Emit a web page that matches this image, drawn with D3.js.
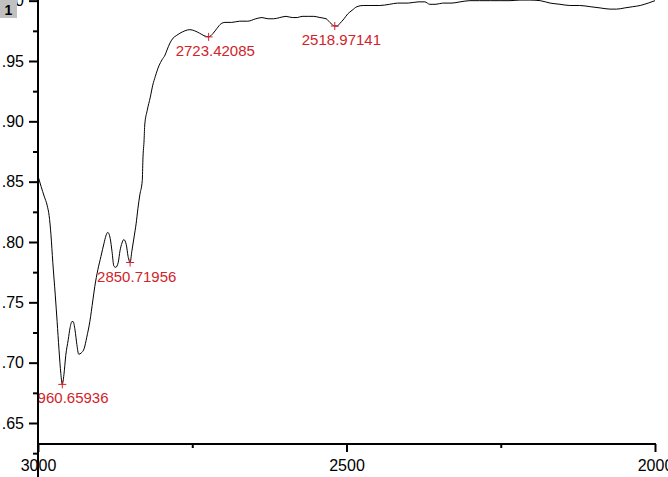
<!DOCTYPE html>
<html><head><meta charset="utf-8">
<script src="https://cdn.jsdelivr.net/npm/d3@7"></script>
<style>html,body{margin:0;padding:0;background:#fff;overflow:hidden}</style>
</head><body>
<script>
// Spectrum trace (wavenumber, value)
const wavenumbers = [2999,2995,2990,2985,2982,2979,2976,2972,2969,2966,2963,2960.66,2958,2955,2951,2948,2945,2943,2940,2937,2934,2930,2925,2921,2916,2911,2908,2903,2898,2893,2890,2887,2883,2880,2877,2874,2870,2867,2864,2861,2857,2854,2850.72,2848,2844,2841,2838,2835,2831,2830,2828,2827,2823,2818,2814,2810,2804,2799,2794,2791,2786,2781,2776,2770,2762,2754,2746,2738,2731,2723.42,2716,2710,2703,2697,2686,2673,2660,2647,2637,2627,2618,2608,2598,2588,2580,2572,2562,2553,2543,2533,2527,2518.97,2515,2511,2504,2498,2491,2483,2473,2462,2446,2430,2417,2400,2384,2373,2365,2355,2344,2329,2316,2300,2284,2267,2251,2235,2219,2203,2186,2170,2154,2138,2122,2105,2089,2073,2062,2049,2036,2024,2011,2000];
const values = [0.853,0.846,0.838,0.830,0.822,0.806,0.783,0.756,0.734,0.711,0.691,0.682,0.690,0.706,0.719,0.729,0.734,0.734,0.727,0.715,0.707,0.708,0.712,0.721,0.734,0.752,0.763,0.777,0.788,0.799,0.805,0.808,0.803,0.792,0.780,0.779,0.783,0.793,0.799,0.802,0.798,0.788,0.783,0.792,0.805,0.815,0.828,0.839,0.851,0.868,0.885,0.897,0.909,0.920,0.930,0.937,0.946,0.951,0.955,0.959,0.965,0.969,0.971,0.973,0.975,0.976,0.975,0.973,0.971,0.970,0.973,0.977,0.981,0.982,0.982,0.983,0.983,0.985,0.986,0.985,0.985,0.986,0.987,0.986,0.986,0.987,0.987,0.987,0.986,0.985,0.982,0.979,0.979,0.981,0.985,0.989,0.992,0.995,0.996,0.996,0.996,0.997,0.998,0.998,0.999,0.999,0.997,0.997,0.998,0.998,0.999,1.000,1.000,1.000,1.000,1.000,1.0005,1.0005,1.000,0.998,0.997,0.996,0.996,0.995,0.994,0.993,0.993,0.994,0.995,0.996,0.998,1.000];
// Peak annotations
const peakWavenumbers = [2960.65936, 2850.71956, 2723.42085, 2518.97141];
const peakValues = [0.682, 0.783, 0.970, 0.979];
// Ticks
const xMajorTicks = [3000, 2500, 2000];
const xMinorTicks = [2750, 2250];
const yMajorTicks = [1.00, 0.95, 0.90, 0.85, 0.80, 0.75, 0.70, 0.65];
const yMinorTicks = [0.975, 0.925, 0.875, 0.825, 0.775, 0.725, 0.675, 0.625];

const W = 668, H = 477;
const svg = d3.select("body").append("svg").attr("width", W).attr("height", H)
  .style("font-family", "'Liberation Sans', Arial, sans-serif");

const x = d3.scaleLinear().domain([3000, 2000]).range([38, 655]);
const y = d3.scaleLinear().domain([0.65, 0.95]).range([423, 61]);
const xAxisY = 444;

svg.append("clipPath").attr("id", "plot").append("rect")
  .attr("x", 39).attr("y", -5).attr("width", 620).attr("height", xAxisY + 4);

// curve
const pts = wavenumbers.map((w, i) => [w, values[i]]);
svg.append("path").datum(pts)
  .attr("clip-path", "url(#plot)")
  .attr("fill", "none").attr("stroke", "#000").attr("stroke-width", 1)
  .attr("d", d3.line().curve(d3.curveMonotoneX).x(d => x(d[0])).y(d => y(d[1])));

// y axis
const fmtY = v => { const s = d3.format(".2f")(v); return s.startsWith("0") ? s.slice(1) : s; };
const yAx = svg.append("g").attr("transform", "translate(38,0)")
  .call(d3.axisLeft(y).tickValues(yMajorTicks).tickSize(9).tickSizeOuter(0).tickPadding(5).tickFormat(fmtY));
yAx.select(".domain").remove();
yAx.selectAll(".tick line").attr("stroke", "#000").attr("stroke-width", 2);
yAx.selectAll(".tick text").attr("fill", "#000").style("font-size", "16px");
const yMin = svg.append("g").attr("transform", "translate(38,0)")
  .call(d3.axisLeft(y).tickValues(yMinorTicks).tickSize(5).tickFormat(""));
yMin.select(".domain").remove();
yMin.selectAll(".tick line").attr("stroke", "#000").attr("stroke-width", 2);
svg.append("line").attr("x1", 38).attr("x2", 38).attr("y1", -5).attr("y2", H + 5)
  .attr("stroke", "#000").attr("stroke-width", 2);

// x axis
const xAx = svg.append("g").attr("transform", `translate(0,${xAxisY})`)
  .call(d3.axisBottom(x).tickValues(xMajorTicks).tickSize(8).tickSizeOuter(0).tickPadding(8).tickFormat(d3.format("d")));
xAx.select(".domain").remove();
xAx.selectAll(".tick line").attr("stroke", "#000").attr("stroke-width", 2);
xAx.selectAll(".tick text").attr("fill", "#000").style("font-size", "16px");
const xMin = svg.append("g").attr("transform", `translate(0,${xAxisY})`)
  .call(d3.axisBottom(x).tickValues(xMinorTicks).tickSize(4).tickFormat(""));
xMin.select(".domain").remove();
xMin.selectAll(".tick line").attr("stroke", "#000").attr("stroke-width", 2);
svg.append("line").attr("x1", 38).attr("x2", 656).attr("y1", xAxisY).attr("y2", xAxisY)
  .attr("stroke", "#000").attr("stroke-width", 2);

// peak markers and labels
const red = "#d1232a";
const peaks = svg.append("g").attr("clip-path", "url(#plot)");
peakWavenumbers.forEach((w, i) => {
  const px = x(w), py = y(peakValues[i]);
  peaks.append("path").attr("d", `M${px-4},${py}H${px+4}M${px},${py-4}V${py+4}`)
    .attr("stroke", red).attr("stroke-width", 1).attr("fill", "none");
  peaks.append("text").attr("x", px - 33).attr("y", py + 19)
    .attr("fill", red).style("font-size", "15px").text(d3.format(".5f")(w));
});

// layer indicator
svg.append("rect").attr("x", 0).attr("y", 0).attr("width", 17).attr("height", 18).attr("fill", "#c0c0c0");
svg.append("text").attr("x", 8.5).attr("y", 15).attr("text-anchor", "middle")
  .style("font-size", "14px").style("font-weight", "bold").attr("fill", "#000").text("1");
</script>
</body></html>
